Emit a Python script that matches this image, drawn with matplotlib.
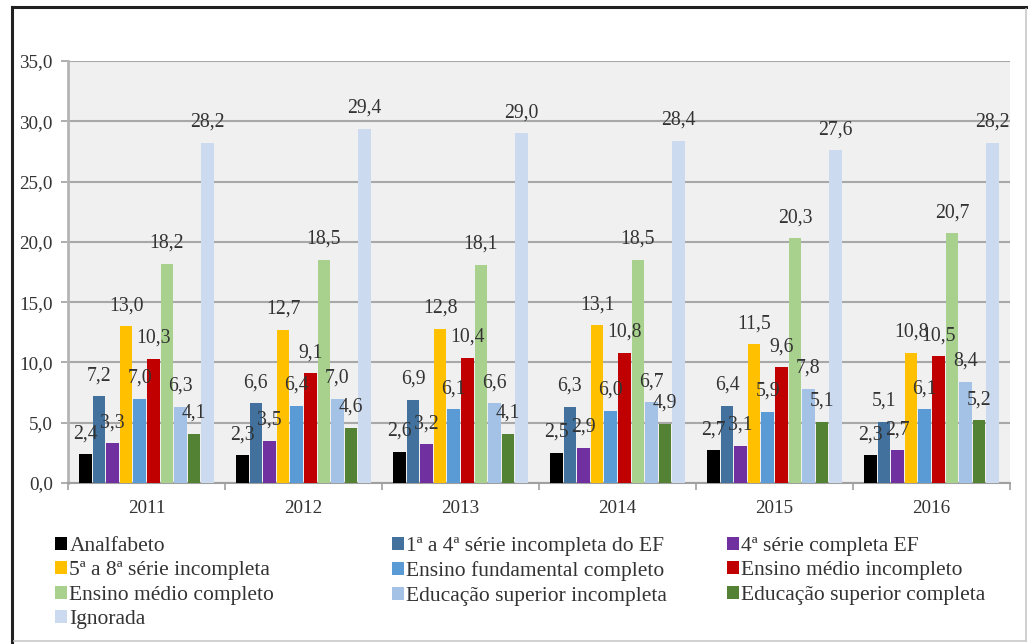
import matplotlib
matplotlib.use("Agg")
import matplotlib.pyplot as plt
from matplotlib.lines import Line2D
import numpy as np

years = ["2011", "2012", "2013", "2014", "2015", "2016"]
categories = [
    "Analfabeto",
    "1ª a 4ª série incompleta do EF",
    "4ª série completa EF",
    "5ª a 8ª série incompleta",
    "Ensino fundamental completo",
    "Ensino médio incompleto",
    "Ensino médio completo",
    "Educação superior incompleta",
    "Educação superior completa",
    "Ignorada",
]
analfabeto = [2.4, 2.3, 2.6, 2.5, 2.7, 2.3]
s1a4_incompleta = [7.2, 6.6, 6.9, 6.3, 6.4, 5.1]
s4_completa = [3.3, 3.5, 3.2, 2.9, 3.1, 2.7]
s5a8_incompleta = [13.0, 12.7, 12.8, 13.1, 11.5, 10.8]
fund_completo = [7.0, 6.4, 6.1, 6.0, 5.9, 6.1]
medio_incompleto = [10.3, 9.1, 10.4, 10.8, 9.6, 10.5]
medio_completo = [18.2, 18.5, 18.1, 18.5, 20.3, 20.7]
sup_incompleta = [6.3, 7.0, 6.6, 6.7, 7.8, 8.4]
sup_completa = [4.1, 4.6, 4.1, 4.9, 5.1, 5.2]
ignorada = [28.2, 29.4, 29.0, 28.4, 27.6, 28.2]
series = [analfabeto, s1a4_incompleta, s4_completa, s5a8_incompleta, fund_completo,
          medio_incompleto, medio_completo, sup_incompleta, sup_completa, ignorada]
colors = ["#000000", "#41719c", "#7030a0", "#ffc000", "#5b9bd5",
          "#c00000", "#a9d18e", "#a4c2e6", "#548235", "#ccdaf0"]

FONT = "Liberation Serif"
TXT = "#333333"
W, H = 1028, 644
fig = plt.figure(figsize=(W / 100, H / 100), dpi=100)
fig.patch.set_facecolor("white")
ax = fig.add_axes([68 / W, 1 - 483 / H, (1010 - 68) / W, (483 - 61) / H])
ax.set_facecolor("#f0f0f0")

x = np.arange(len(years))
slot = 0.0866
bw = 0.08
n = len(series)
containers = []
for i, (vals, c) in enumerate(zip(series, colors)):
    pos = x + (i - (n - 1) / 2) * slot
    bc = ax.bar(pos, vals, width=bw, color=c, zorder=3, label=categories[i])
    containers.append(bc)
    for xi, v in zip(pos, vals):
        ax.annotate(f"{v:.1f}".replace(".", ","), (xi, v), xytext=(0, 20.5),
                    textcoords="offset pixels", ha="center", va="center",
                    fontsize=14.2, family=FONT, color=TXT, zorder=5)

ax.set_xlim(-0.5, len(years) - 0.5)
ax.set_ylim(0, 35)
ax.set_yticks(np.arange(0, 36, 5))
ax.set_yticklabels([f"{v:.1f}".replace(".", ",") for v in np.arange(0, 36, 5)],
                   fontsize=13.8, family=FONT, color=TXT)
ax.set_xticks(x)
ax.set_xticklabels(years, fontsize=13.8, family=FONT, color=TXT)
ax.tick_params(axis="x", length=0, pad=12)
ax.set_xticks(np.arange(-0.5, len(years), 1), minor=True)
ax.tick_params(axis="x", which="minor", length=5, color="#a0a0a0", width=1.2)
ax.tick_params(axis="y", length=5, color="#a0a0a0", width=1.2, pad=6)
ax.grid(axis="y", color="#a8a8a8", linewidth=1.5, zorder=1)
for s in ["top", "right"]:
    ax.spines[s].set_visible(False)
ax.spines["left"].set_color("#b4b4b4")
ax.spines["left"].set_linewidth(2)
ax.spines["bottom"].set_color("#a0a0a0")
ax.spines["bottom"].set_linewidth(1.5)

# legends in three columns (row-major in the reference)
cols = [[0, 3, 6, 9], [1, 4, 7], [2, 5, 8]]
col_x = [55, 392, 727]
for cidx, xs in zip(cols, col_x):
    leg = fig.legend([containers[k] for k in cidx], [categories[k] for k in cidx],
                     loc="upper left", bbox_to_anchor=(xs / W, 1 - 537 / H),
                     frameon=False, ncol=1, prop={"family": FONT, "size": 15.5},
                     handlelength=0.55, handleheight=0.55, handletextpad=0.12,
                     labelspacing=0.245, borderpad=0, borderaxespad=0)
    for t in leg.get_texts():
        t.set_color(TXT)

# outer frame
fig.add_artist(Line2D([12 / W, 12 / W], [0, 1 - 7 / H], color="#202020", lw=2.2,
                      transform=fig.transFigure))
fig.add_artist(Line2D([12 / W, 1], [1 - 7 / H, 1 - 7 / H], color="#202020", lw=2.2,
                      transform=fig.transFigure))
fig.add_artist(Line2D([1026 / W, 1026 / W], [1 - 641 / H, 1 - 9 / H], color="#c8c8c8",
                      lw=1.2, transform=fig.transFigure))
fig.add_artist(Line2D([14 / W, 1026 / W], [1 - 641 / H, 1 - 641 / H], color="#c8c8c8",
                      lw=1.2, transform=fig.transFigure))

fig.savefig("out.png", dpi=100, facecolor="white")
